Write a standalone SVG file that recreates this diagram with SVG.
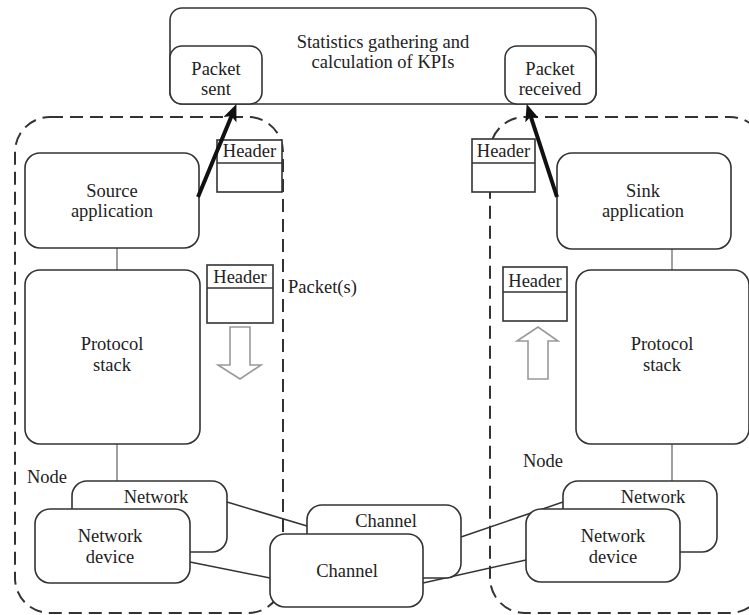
<svg xmlns="http://www.w3.org/2000/svg" width="749" height="615" viewBox="0 0 749 615" font-family="'Liberation Serif', 'DejaVu Serif', serif">
<style>
.bx{fill:#fff;stroke:#333;stroke-width:1.6}
.dash{fill:none;stroke:#333;stroke-width:2;stroke-dasharray:13 7}
text{font-family:'Liberation Serif','DejaVu Serif',serif;font-size:18.5px;fill:#222}
.t{text-anchor:middle}
.g{stroke:#888;stroke-width:1.6;fill:none}
.c{stroke:#333;stroke-width:1.5;fill:none}
.thick{stroke:#111;stroke-width:4;fill:none}
.hollow{fill:#fff;stroke:#999;stroke-width:1.6}
.hd{fill:#fff;stroke:#333;stroke-width:1.6}
</style>
<defs>
<marker id="ah" markerUnits="userSpaceOnUse" markerWidth="18" markerHeight="14" refX="8" refY="7" orient="auto">
<path d="M0,0 L17,7 L0,14 L4,7 z" fill="#111"/>
</marker>
</defs>
<rect width="749" height="615" fill="#fff"/>

<g id="node-left-container">
<rect class="dash" x="15" y="117" width="268" height="496" rx="35"/>
</g>
<g id="node-right-container">
<rect class="dash" x="490" y="117" width="275" height="496" rx="35"/>
</g>

<g id="connectors">
<line class="g" x1="117" y1="248" x2="117" y2="270"/>
<line class="g" x1="117" y1="444" x2="117" y2="481"/>
<line class="g" x1="672" y1="249" x2="672" y2="270"/>
<line class="g" x1="672" y1="444" x2="672" y2="481"/>
<line class="c" x1="227" y1="502" x2="307" y2="526"/>
<line class="c" x1="190" y1="562" x2="270" y2="578"/>
<line class="c" x1="461" y1="537" x2="563" y2="502"/>
<line class="c" x1="423" y1="583" x2="526" y2="560"/>
</g>

<g id="stats">
<rect class="bx" x="170" y="8" width="426" height="96" rx="12"/>
<text class="t" x="383" y="48">Statistics gathering and</text>
<text class="t" x="383" y="68">calculation of KPIs</text>
</g>
<g id="packet-sent">
<rect class="bx" x="170" y="46" width="92" height="58" rx="12"/>
<text class="t" x="216" y="75">Packet</text>
<text class="t" x="216" y="95">sent</text>
</g>
<g id="packet-received">
<rect class="bx" x="505" y="46" width="91" height="58" rx="12"/>
<text class="t" x="550" y="75">Packet</text>
<text class="t" x="550" y="95">received</text>
</g>

<g id="source-app">
<rect class="bx" x="25" y="153" width="174" height="95" rx="15"/>
<text class="t" x="112" y="197">Source</text>
<text class="t" x="112" y="217">application</text>
</g>
<g id="protocol-left">
<rect class="bx" x="25" y="270" width="175" height="174" rx="15"/>
<text class="t" x="112" y="350">Protocol</text>
<text class="t" x="112" y="371">stack</text>
</g>
<g id="network-left">
<rect class="bx" x="72" y="481" width="155" height="71" rx="15"/>
<text class="t" x="156" y="503">Network</text>
</g>
<g id="netdev-left">
<rect class="bx" x="35" y="509" width="155" height="74" rx="15"/>
<text class="t" x="110" y="542">Network</text>
<text class="t" x="110" y="563">device</text>
</g>
<text id="node-label-left" x="27" y="483">Node</text>

<g id="sink-app">
<rect class="bx" x="557" y="153" width="174" height="96" rx="15"/>
<text class="t" x="643" y="197">Sink</text>
<text class="t" x="643" y="217">application</text>
</g>
<g id="protocol-right">
<rect class="bx" x="576" y="270" width="173" height="174" rx="15"/>
<text class="t" x="662" y="350">Protocol</text>
<text class="t" x="662" y="371">stack</text>
</g>
<g id="network-right">
<rect class="bx" x="563" y="481" width="154" height="71" rx="15"/>
<text class="t" x="653" y="503">Network</text>
</g>
<g id="netdev-right">
<rect class="bx" x="526" y="509" width="154" height="73" rx="15"/>
<text class="t" x="613" y="542">Network</text>
<text class="t" x="613" y="563">device</text>
</g>
<text id="node-label-right" x="523" y="467">Node</text>

<g id="channel-back">
<rect class="bx" x="307" y="505" width="154" height="73" rx="15"/>
<text class="t" x="386" y="527">Channel</text>
</g>
<g id="channel-front">
<rect class="bx" x="270" y="534" width="153" height="73" rx="15"/>
<text class="t" x="347" y="577">Channel</text>
</g>

<g id="header-left-top">
<rect class="hd" x="217" y="140" width="65" height="52"/>
<line class="c" x1="217" y1="163" x2="282" y2="163"/>
<text class="t" x="249.5" y="157">Header</text>
</g>
<g id="header-left-bottom">
<rect class="hd" x="207" y="265" width="66" height="58"/>
<line class="c" x1="207" y1="288" x2="273" y2="288"/>
<text class="t" x="240" y="283">Header</text>
</g>
<g id="header-right-top">
<rect class="hd" x="472" y="139" width="63" height="53"/>
<line class="c" x1="472" y1="163" x2="535" y2="163"/>
<text class="t" x="503.5" y="157">Header</text>
</g>
<g id="header-right-bottom">
<rect class="hd" x="503" y="267" width="64" height="54"/>
<line class="c" x1="503" y1="292" x2="567" y2="292"/>
<text class="t" x="535" y="287">Header</text>
</g>
<text id="packets-label" x="288" y="293">Packet(s)</text>

<g id="flow-arrows">
<polygon class="hollow" points="230,327 250,327 250,365 261,365 240,379 218,365 230,365"/>
<polygon class="hollow" points="528,379 548,379 548,341 558,341 538,327 517,341 528,341"/>
<line class="thick" x1="198" y1="197" x2="233" y2="112.4" marker-end="url(#ah)"/>
<line class="thick" x1="557" y1="197" x2="529.5" y2="112.6" marker-end="url(#ah)"/>
</g>
</svg>
